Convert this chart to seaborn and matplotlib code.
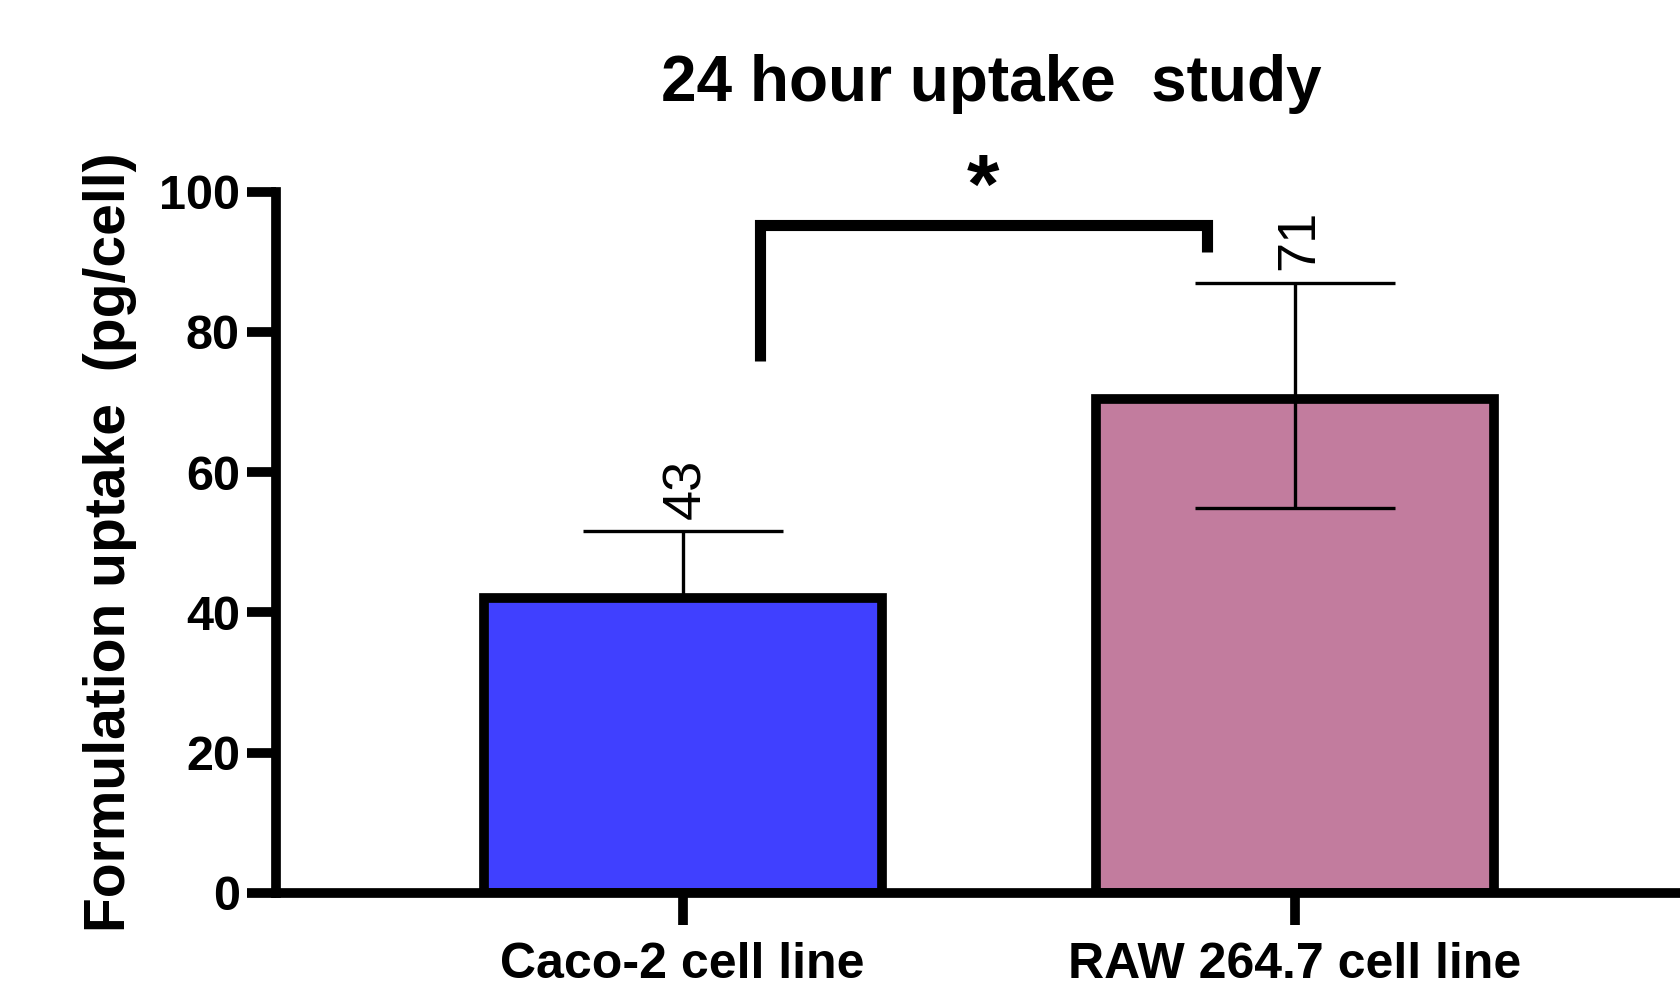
import matplotlib
matplotlib.use('Agg')
import matplotlib.pyplot as plt
import seaborn as sns
import pandas as pd
from matplotlib import font_manager as fm

# values
cell_lines = ['Caco-2 cell line', 'RAW 264.7 cell line']
mean_uptake = [42.0, 70.4]
err_top = [51.6, 87.0]
err_bottom = [42.0, 54.9]     # caco-2 error bar only drawn upward
value_labels = ['43', '71']
bar_colors = ['#4040FF', '#C27C9E']
y_ticks = [0, 20, 40, 60, 80, 100]

df = pd.DataFrame({'line': cell_lines, 'uptake': mean_uptake})

sns.set_style('ticks')
plt.rcParams['font.family'] = ['Liberation Sans', 'DejaVu Sans']
plt.rcParams.update({'text.color': 'black', 'axes.edgecolor': 'black',
                     'axes.labelcolor': 'black', 'xtick.color': 'black',
                     'ytick.color': 'black'})

names = {f.name for f in fm.fontManager.ttflist}
if 'Liberation Sans Narrow' in names:
    xfont, xsize = 'Liberation Sans Narrow', 43
else:
    xfont, xsize = 'Liberation Sans', 36

fig = plt.figure(figsize=(16.8, 9.83), dpi=100)
ax = fig.add_axes([276 / 1680, 90 / 983, 1 - 276 / 1680, 701.5 / 983])

sns.barplot(data=df, x='line', y='uptake', hue='line', palette=bar_colors,
            saturation=1, width=0.65, edgecolor='black', linewidth=7,
            errorbar=None, legend=False, ax=ax)

lo = [m - b for m, b in zip(mean_uptake, err_bottom)]
hi = [t - m for m, t in zip(mean_uptake, err_top)]
ax.errorbar(range(len(cell_lines)), mean_uptake, yerr=[lo, hi],
            fmt='none', ecolor='black', elinewidth=2.4, capsize=72,
            capthick=2.4, zorder=5)

for i, (t, lab) in enumerate(zip(err_top, value_labels)):
    ax.annotate(lab, xy=(i, t), xytext=(3, 9), textcoords='offset points',
                rotation=90, ha='center', va='bottom', fontsize=39)

# significance bracket
ax.plot([0.126, 0.126, 0.857, 0.857], [75.8, 95.2, 95.2, 91.4], color='black',
        lw=8, solid_capstyle='butt', solid_joinstyle='miter', clip_on=False,
        zorder=6)
ax.text(0.49, 97.0, '*', ha='center', va='baseline', fontsize=60,
        fontweight='bold', clip_on=False)

ax.set_xlim(-0.664, 1.629)
ax.set_ylim(0, 100)
ax.set_yticks(y_ticks)
sns.despine(ax=ax)
for s in ['left', 'bottom']:
    ax.spines[s].set_linewidth(7)

ax.tick_params(axis='y', length=21, width=7, labelsize=35, pad=5)
ax.tick_params(axis='x', length=23, width=7, pad=12)
for t in ax.get_yticklabels():
    t.set_fontweight('bold')
for t in ax.get_xticklabels():
    t.set_fontfamily([xfont, 'DejaVu Sans'])
    t.set_fontsize(xsize)
    t.set_fontweight('bold')

ax.set_xlabel('')
ax.set_ylabel('Formulation uptake  (pg/cell)', fontsize=41, fontweight='bold',
              labelpad=16)

fig.text(991 / 1680, 1 - 101 / 983, '24 hour uptake  study', ha='center',
         va='baseline', fontsize=46, fontweight='bold')

fig.savefig('out.png', dpi=100)
